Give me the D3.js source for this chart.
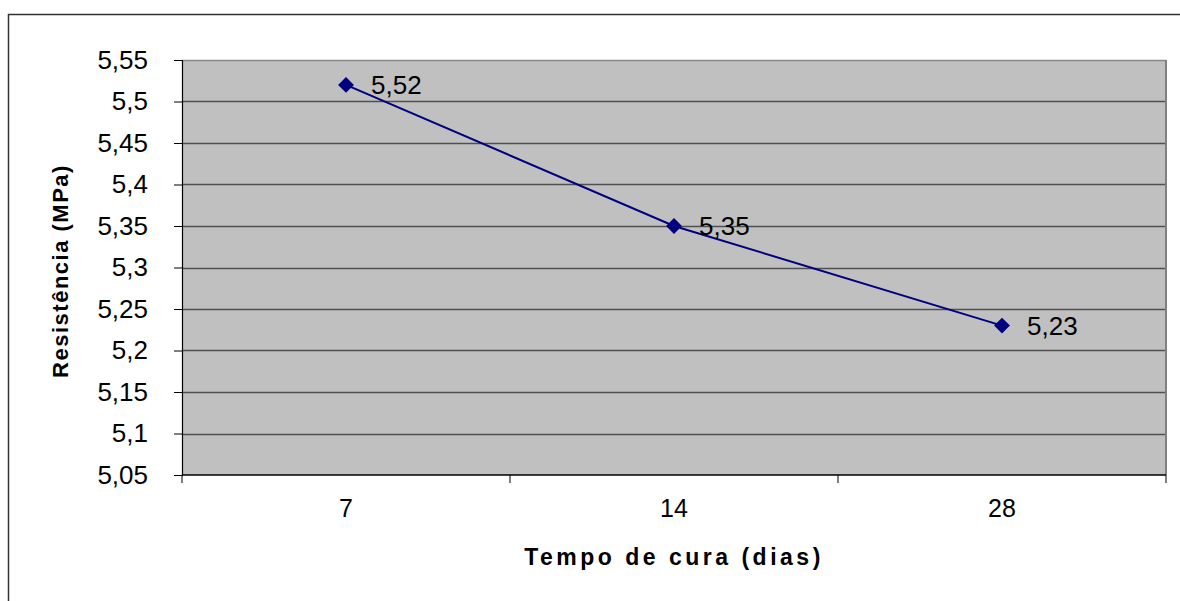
<!DOCTYPE html>
<html>
<head>
<meta charset="utf-8">
<script src="https://cdn.jsdelivr.net/npm/d3@7"></script>
<style>
  body { margin: 0; background: #fff; }
  text { font-family: "Liberation Sans", Arial, sans-serif; }
</style>
</head>
<body>
<svg id="chart" width="1180" height="601"></svg>
<script>
// data
var categories = ["7", "14", "28"];
var values = [5.52, 5.35, 5.23];
var yTicks = [5.05, 5.1, 5.15, 5.2, 5.25, 5.3, 5.35, 5.4, 5.45, 5.5, 5.55];

var svg = d3.select("#chart");
var plot = {left: 182, top: 60, right: 1166, bottom: 475};

var fmt = function(v) { return String(+v.toFixed(2)).replace(".", ","); };

// outer chart border (runs off right/bottom edges)
svg.append("rect")
    .attr("x", 8.5).attr("y", 14.5)
    .attr("width", 1200).attr("height", 700)
    .attr("fill", "none").attr("stroke", "#333").attr("stroke-width", 1.5);

var x = d3.scaleBand().domain(categories).range([plot.left, plot.right]);
var y = d3.scaleLinear().domain([5.05, 5.55]).range([plot.bottom, plot.top]);

// plot area
svg.append("rect")
    .attr("x", plot.left).attr("y", plot.top)
    .attr("width", plot.right - plot.left).attr("height", plot.bottom - plot.top)
    .attr("fill", "#c0c0c0");

// gridlines
svg.append("g")
    .selectAll("line")
    .data(yTicks.slice(1))
    .enter().append("line")
        .attr("x1", plot.left).attr("x2", plot.right)
        .attr("y1", function(d) { return Math.round(y(d)) + 0.5; })
        .attr("y2", function(d) { return Math.round(y(d)) + 0.5; })
        .attr("stroke", function(d, i) { return i === yTicks.length - 2 ? "#8a8a8a" : "#505050"; })
        .attr("stroke-width", 1.5);

// right frame edge
svg.append("line")
    .attr("x1", plot.right).attr("x2", plot.right)
    .attr("y1", plot.top).attr("y2", plot.bottom)
    .attr("stroke", "#808080").attr("stroke-width", 2);

// y axis
var yAxis = svg.append("g")
    .attr("transform", "translate(" + plot.left + ",0)")
    .call(d3.axisLeft(y).tickValues(yTicks).tickSize(8).tickPadding(26).tickFormat(fmt));
yAxis.select(".domain").attr("stroke", "#000").attr("stroke-width", 1.2);
yAxis.selectAll(".tick line").attr("stroke", "#000");
yAxis.selectAll("text").attr("font-size", 26).attr("fill", "#000")
    .attr("font-family", "'Liberation Sans', Arial, sans-serif");

// x axis: ticks at category boundaries
var xAxis = svg.append("g")
    .attr("transform", "translate(0," + plot.bottom + ")")
    .call(d3.axisBottom(x).tickSize(0).tickPadding(24));
xAxis.select(".domain").remove();
xAxis.selectAll("text").attr("font-size", 25).attr("fill", "#000")
    .attr("font-family", "'Liberation Sans', Arial, sans-serif");
svg.append("line")
    .attr("x1", plot.left).attr("x2", plot.right)
    .attr("y1", plot.bottom).attr("y2", plot.bottom)
    .attr("stroke", "#000").attr("stroke-width", 1.5);
var bounds = categories.map(function(c) { return x(c); }).concat([x(categories[categories.length - 1]) + x.bandwidth()]);
svg.append("g").selectAll("line")
    .data(bounds).enter().append("line")
        .attr("x1", function(d) { return d; }).attr("x2", function(d) { return d; })
        .attr("y1", plot.bottom).attr("y2", plot.bottom + 8)
        .attr("stroke", "#000");

// series line
var cx = function(d, i) { return x(categories[i]) + x.bandwidth() / 2; };
var line = d3.line()
    .x(function(d, i) { return cx(d, i); })
    .y(function(d) { return y(d); });
svg.append("path")
    .datum(values)
    .attr("d", line)
    .attr("fill", "none").attr("stroke", "#000080").attr("stroke-width", 2);

svg.append("g").selectAll("path")
    .data(values).enter().append("path")
        .attr("d", d3.symbol().type(d3.symbolDiamond2).size(160))
        .attr("transform", function(d, i) { return "translate(" + cx(d, i) + "," + y(d) + ")"; })
        .attr("fill", "#000080");

svg.append("g").selectAll("text")
    .data(values).enter().append("text")
        .attr("x", function(d, i) { return cx(d, i) + 25; })
        .attr("y", function(d) { return y(d); })
        .attr("dy", "0.35em")
        .attr("font-size", 26)
        .text(fmt);

// axis titles
svg.append("text")
    .attr("transform", "translate(68,271) rotate(-90)")
    .attr("text-anchor", "middle")
    .attr("font-size", 22).attr("font-weight", "bold")
    .attr("letter-spacing", 1.5)
    .text("Resistência (MPa)");

svg.append("text")
    .attr("x", 674).attr("y", 565)
    .attr("text-anchor", "middle")
    .attr("font-size", 23).attr("font-weight", "bold")
    .attr("letter-spacing", 3.5)
    .text("Tempo de cura (dias)");
</script>
</body>
</html>
